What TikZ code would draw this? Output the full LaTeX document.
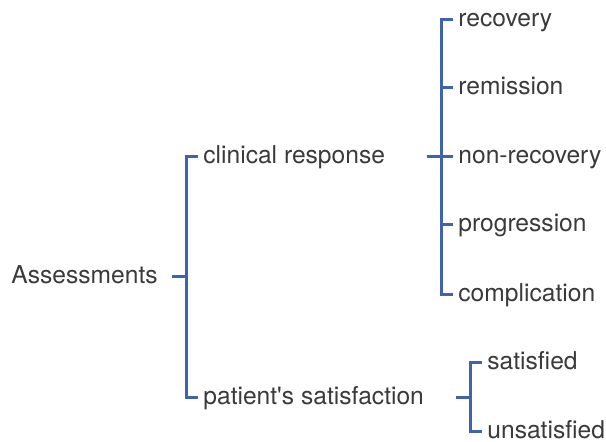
\documentclass[tikz,border=0pt]{standalone}
\usepackage{fontspec}
\setmainfont{TeX Gyre Heros}
\usetikzlibrary{positioning}
\definecolor{bracketblue}{HTML}{3F63AE}
\definecolor{labelgray}{HTML}{3A3A3A}

\begin{document}
\begin{tikzpicture}[x=0.5pt,y=-0.5pt,
  lbl/.style={anchor=west,inner sep=0pt,text height=9pt,text depth=1.5pt,
    text=labelgray,font=\fontsize{12.3}{14}\selectfont},
  brk/.style={bracketblue,line width=1.5pt}]
\useasboundingbox (0,0) rectangle (606,441);
% labels
\node[lbl] (assess) at (11,276) {Assessments};
\node[lbl] (clin) at (203,156) {clinical response};
\node[lbl] (pat) at (203,397) {patient\textquotesingle s satisfaction};
\node[lbl] (recov) at (458,19) {recovery};
\node[lbl] (remis) at (458,87) {remission};
\node[lbl] (nonrec) at (458,156) {non-recovery};
\node[lbl] (progr) at (458,224) {progression};
\node[lbl] (compl) at (458,294) {complication};
\node[lbl] (satis) at (487,362) {satisfied};
\node[lbl] (unsat) at (487,431) {unsatisfied};
% stub starts and spines
\coordinate (assessend) at (172,276);
\coordinate (rootspine) at (186,276);
\coordinate (clinend) at (427,156);
\coordinate (clinspine) at (441,156);
\coordinate (patend) at (456,397);
\coordinate (patspine) at (470,397);
% root bracket
\draw[brk] (assessend) -- (rootspine);
\draw[brk] ([xshift=-2.5pt]clin.west) -| (rootspine) |- ([xshift=-2.5pt]pat.west);
% clinical response bracket
\draw[brk] (clinend) -- (clinspine);
\draw[brk] ([xshift=-2.5pt]recov.west) -| (clinspine) |- ([xshift=-2.5pt]compl.west);
\draw[brk] (clinspine) -- ([xshift=-2.5pt]nonrec.west);
\foreach \n in {remis,progr}
  \draw[brk] ([xshift=-2.5pt]\n.west) -- ++(-6.5pt,0);
% satisfaction bracket
\draw[brk] (patend) -- (patspine);
\draw[brk] ([xshift=-2.5pt]satis.west) -| (patspine) |- ([xshift=-2.5pt]unsat.west);
\end{tikzpicture}
\end{document}
